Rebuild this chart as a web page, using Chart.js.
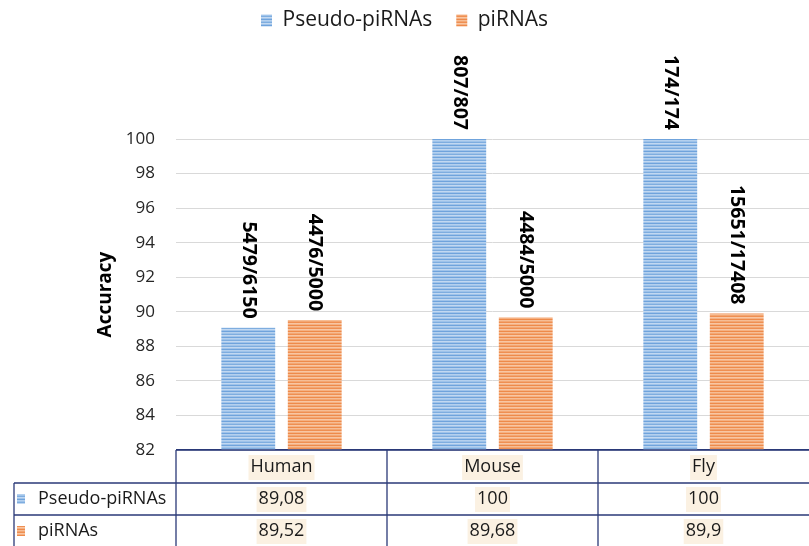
<!DOCTYPE html>
<html>
<head>
<meta charset="utf-8">
<script src="https://cdn.jsdelivr.net/npm/chart.js@4.4.1/dist/chart.umd.min.js"></script>
<style>
  body { margin: 0; background: #fff; }
  #wrap { width: 809px; height: 546px; position: relative; }
</style>
</head>
<body>
<div id="wrap"><canvas id="accuracy-chart"></canvas></div>
<script>
const species = ['Human', 'Mouse', 'Fly'];
const seriesNames = ['Pseudo-piRNAs', 'piRNAs'];
const pseudoAccuracy = [89.08, 100, 100];
const piAccuracy = [89.52, 89.68, 89.9];
const pseudoCounts = ['5479/6150', '807/807', '174/174'];
const piCounts = ['4476/5000', '4484/5000', '15651/17408'];
const yTicks = [82, 84, 86, 88, 90, 92, 94, 96, 98, 100];

const FONT = "'Open Sans', sans-serif";
const PLOT_TOP = 139;
const PLOT_BOTTOM = 450;
const TOP_PAD = -14;
const NAVY = '#2b3a78';

Chart.defaults.font.family = FONT;
Chart.defaults.color = '#262626';

// striped fill like the excel bars
function stripes(colors) {
    const c = document.createElement('canvas');
    c.width = 4;
    c.height = colors.length;
    const g = c.getContext('2d');
    colors.forEach((col, i) => {
        g.fillStyle = col;
        g.fillRect(0, i, 4, 1);
    });
    return g.createPattern(c, 'repeat');
}
const bluePattern = stripes(['#9fc3ea', '#6fa3dc', '#b4d0ee', '#9fc3ea', '#7eaddf', '#c2d8f1']);
const orangePattern = stripes(['#f5b183', '#ee8a4a', '#f6bd95', '#f3a672', '#ef8f52', '#f8c6a3']);
const patterns = [bluePattern, orangePattern];

const legendSpacer = {
    id: 'legendSpacer',
    beforeInit(chart) {
        const fit = chart.legend.fit;
        chart.legend.fit = function () {
            fit.call(this);
            this.height = PLOT_TOP - TOP_PAD;
        };
    }
};

// rotated count labels over the bars
const countLabels = {
    id: 'countLabels',
    afterDatasetsDraw(chart) {
        const ctx = chart.ctx;
        const texts = [pseudoCounts, piCounts];
        ctx.save();
        ctx.font = "bold 19.5px " + FONT;
        ctx.fillStyle = '#000';
        chart.data.datasets.forEach((ds, d) => {
            chart.getDatasetMeta(d).data.forEach((bar, i) => {
                ctx.save();
                ctx.translate(bar.x, bar.y - 9);
                ctx.rotate(Math.PI / 2);
                ctx.textAlign = 'right';
                ctx.textBaseline = 'middle';
                ctx.fillText(texts[d][i], 0, 0);
                ctx.restore();
            });
        });
        ctx.restore();
    }
};

// data table under the plot
const dataTable = {
    id: 'dataTable',
    afterDraw(chart) {
        const ctx = chart.ctx;
        const area = chart.chartArea;
        const xs = chart.scales.x;
        const right = chart.width;
        const rowTop = [area.bottom, area.bottom + 33, area.bottom + 65];
        const bottom = chart.height;
        const leftX = 14;
        const half = (xs.getPixelForValue(1) - xs.getPixelForValue(0)) / 2;

        ctx.save();
        ctx.strokeStyle = NAVY;
        ctx.lineWidth = 1.3;
        ctx.beginPath();
        ctx.moveTo(area.left, rowTop[0]); ctx.lineTo(right, rowTop[0]);
        ctx.moveTo(leftX, rowTop[1]); ctx.lineTo(right, rowTop[1]);
        ctx.moveTo(leftX, rowTop[2]); ctx.lineTo(right, rowTop[2]);
        ctx.moveTo(leftX, rowTop[1]); ctx.lineTo(leftX, bottom);
        ctx.moveTo(area.left, rowTop[0]); ctx.lineTo(area.left, bottom);
        for (let i = 0; i < species.length - 1; i++) {
            const x = xs.getPixelForValue(i) + half;
            ctx.moveTo(x, rowTop[0]); ctx.lineTo(x, bottom);
        }
        ctx.stroke();

        ctx.font = '18px ' + FONT;
        ctx.textAlign = 'center';
        ctx.textBaseline = 'middle';
        function cell(text, x, y) {
            const w = ctx.measureText(text).width;
            ctx.fillStyle = '#fbf1e2';
            ctx.fillRect(x - w / 2 - 2, y - 12, w + 4, 25);
            ctx.fillStyle = '#1a1a1a';
            ctx.fillText(text, x, y);
        }
        const rows = [pseudoAccuracy, piAccuracy];
        species.forEach((s, i) => {
            const x = xs.getPixelForValue(i);
            cell(s, x, rowTop[0] + 17);
            rows.forEach((vals, r) => {
                cell(String(vals[i]).replace('.', ','), x, rowTop[r + 1] + 16);
            });
        });

        // series keys in first column
        ctx.textAlign = 'left';
        seriesNames.forEach((name, r) => {
            const cy = rowTop[r + 1] + 16;
            ctx.fillStyle = patterns[r];
            ctx.fillRect(leftX + 3, cy - 5, 8, 10);
            ctx.fillStyle = '#1a1a1a';
            ctx.fillText(name, leftX + 24, cy);
        });
        ctx.restore();
    }
};

new Chart(document.getElementById('accuracy-chart'), {
    type: 'bar',
    data: {
        labels: species,
        datasets: [{
            label: seriesNames[0],
            data: pseudoAccuracy,
            backgroundColor: bluePattern,
            borderWidth: 0
        }, {
            label: seriesNames[1],
            data: piAccuracy,
            backgroundColor: orangePattern,
            borderWidth: 0
        }]
    },
    options: {
        responsive: true,
        maintainAspectRatio: false,
        animation: false,
        datasets: {
            bar: { categoryPercentage: 0.63, barPercentage: 0.81 }
        },
        layout: {
            padding: { top: TOP_PAD, bottom: 546 - PLOT_BOTTOM, left: 0, right: 0 }
        },
        plugins: {
            legend: {
                position: 'top',
                labels: {
                    boxWidth: 11,
                    boxHeight: 12,
                    padding: 24,
                    color: '#1a1a1a',
                    font: { size: 21 }
                }
            },
            tooltip: { enabled: false }
        },
        scales: {
            x: { display: false },
            y: {
                min: 82,
                max: 100,
                afterBuildTicks(scale) {
                    scale.ticks = yTicks.map(v => ({ value: v }));
                },
                afterFit(scale) {
                    scale.width = 176;
                },
                border: { display: false },
                grid: {
                    drawTicks: false,
                    color: ctx => ctx.tick && ctx.tick.value === 82 ? NAVY : '#d9d9d9',
                    lineWidth: ctx => ctx.tick && ctx.tick.value === 82 ? 1.3 : 1
                },
                ticks: {
                    padding: 21,
                    color: '#262626',
                    font: { size: 17 }
                },
                title: {
                    display: true,
                    text: 'Accuracy',
                    color: '#000',
                    font: { size: 19, weight: 'bold' },
                    padding: { top: 94, bottom: 0 }
                }
            }
        }
    },
    plugins: [legendSpacer, countLabels, dataTable]
});
</script>
</body>
</html>
